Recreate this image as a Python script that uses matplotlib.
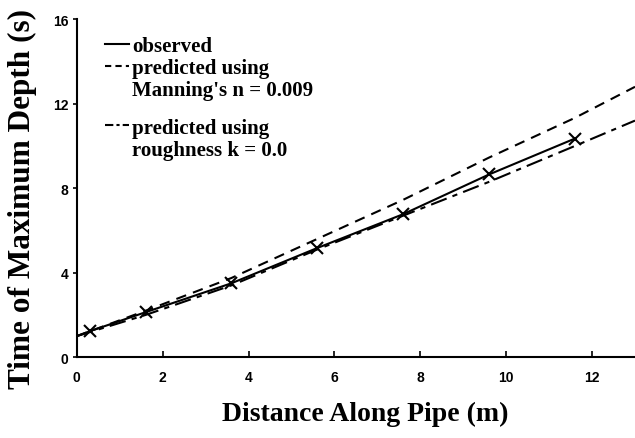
import numpy as np
import matplotlib
matplotlib.use('Agg')
import matplotlib.pyplot as plt
from matplotlib.lines import Line2D

# observed time of maximum depth (x marks)
obs_x = [0.3, 1.6, 3.6, 5.6, 7.6, 9.6, 11.6]
obs_y = [1.23, 2.13, 3.5, 5.17, 6.77, 8.65, 10.35]

# predicted curves
pred_x = [0, 1.6, 3.6, 5.6, 7.6, 9.6, 11.6, 13]
manning_y = [1.0, 2.2, 3.75, 5.6, 7.45, 9.45, 11.33, 12.8]
rough_y = [1.0, 2.0, 3.4, 5.1, 6.7, 8.3, 10.0, 11.2]

xticks = [0, 2, 4, 6, 8, 10, 12]
yticks = [0, 4, 8, 12, 16]

serif = 'Liberation Serif'

fig = plt.figure(figsize=(6.35, 4.39), dpi=100)
ax = fig.add_axes([0.121, 0.184, 0.879, 0.77])

ax.plot([0] + obs_x, [1.0] + obs_y, color='black', lw=1.5, marker='x', ms=8, mew=1.5,
        markevery=list(range(1, len(obs_x) + 1)))
ax.plot(pred_x, manning_y, color='black', lw=1.5, ls=(0, (5, 3.5)))
ax.plot(pred_x, rough_y, color='black', lw=1.5, ls=(0, (8, 3, 2.5, 3)))

ax.set_xlim(0, 13)
ax.set_ylim(0, 16)
ax.set_xticks(xticks)
ax.set_yticks(yticks)
ax.spines['top'].set_visible(False)
ax.spines['right'].set_visible(False)
ax.spines['left'].set_linewidth(1.5)
ax.spines['bottom'].set_linewidth(1.5)
ax.tick_params(axis='x', direction='in', length=4, width=1.2, pad=9)
ax.tick_params(axis='y', direction='out', length=3, width=1.2, pad=3)
for lab in ax.get_xticklabels() + ax.get_yticklabels():
    lab.set_family('Liberation Sans')
    lab.set_fontweight('bold')
    lab.set_fontsize(10)

ax.set_xlabel('Distance Along Pipe (m)', fontfamily=serif, fontweight='bold', fontsize=20)
ax.xaxis.set_label_coords(0.516, -0.128)
ax.set_ylabel('Time of Maximum Depth (s)', fontfamily=serif, fontweight='bold', fontsize=22.5)
ax.yaxis.set_label_coords(-0.072, 0.47)

legprops = {'family': serif, 'weight': 'bold', 'size': 15}
blank = Line2D([], [], color='none')
h1 = [Line2D([], [], color='black', lw=1.5),
      Line2D([], [], color='black', lw=1.5, ls=(0, (3, 2))),
      blank]
l1 = ['observed', 'predicted using', "Manning's n = 0.009"]
leg1 = ax.legend(h1, l1, loc='upper left', bbox_to_anchor=(0.035, 0.975), frameon=False,
                 handlelength=1.15, handletextpad=0.15, labelspacing=0.1, borderaxespad=0,
                 prop=legprops)
ax.add_artist(leg1)
h2 = [Line2D([], [], color='black', lw=1.5, ls=(0, (4, 1.5, 1.5, 1.5))), blank]
l2 = ['predicted using', 'roughness k = 0.0']
ax.legend(h2, l2, loc='upper left', bbox_to_anchor=(0.035, 0.733), frameon=False,
          handlelength=1.15, handletextpad=0.15, labelspacing=0.1, borderaxespad=0,
          prop=legprops)

plt.savefig('out.png', dpi=100)
